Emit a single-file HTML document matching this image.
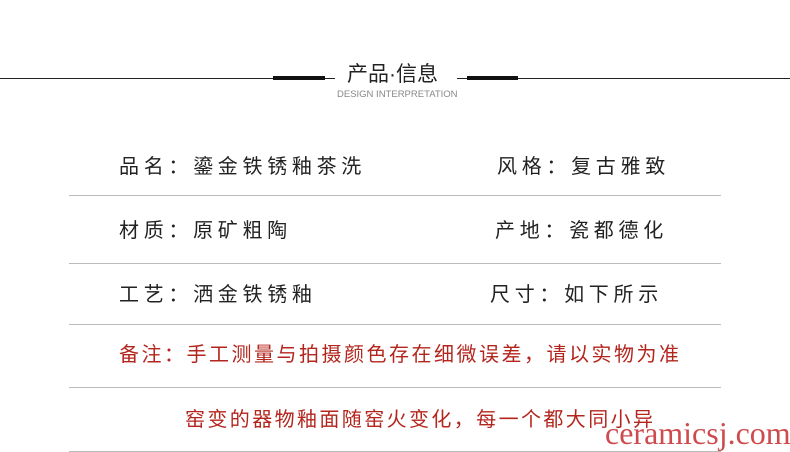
<!DOCTYPE html>
<html><head><meta charset="utf-8"><style>
body{margin:0;width:790px;height:452px;background:#fff;position:relative;overflow:hidden;font-family:"Liberation Sans","Noto Sans CJK SC",sans-serif}
.a{position:absolute;white-space:nowrap}
.t{font-size:20px;letter-spacing:4.7px;color:#222;line-height:20px}
.r{color:#b3261e;letter-spacing:2.5px}
.l{position:absolute;left:69px;width:652px;height:1px;background:#bbb}
</style></head><body>
<div class="a" style="left:0;top:78px;width:790px;height:1px;background:#222"></div>
<div class="a" style="left:273px;top:76px;width:52px;height:4px;background:#111"></div>
<div class="a" style="left:467px;top:76px;width:51px;height:4px;background:#111"></div>
<div class="a" style="left:335px;top:68px;width:122px;height:20px;background:#fff"></div>
<div class="a" style="left:347px;top:58px;font-size:21px;color:#222">产品·信息</div>
<div class="a" style="left:337px;top:89px;font-size:9.5px;color:#888">DESIGN INTERPRETATION</div>

<div class="a t" style="left:119px;top:157px">品名：鎏金铁锈釉茶洗</div>
<div class="a t" style="left:497px;top:157px">风格：复古雅致</div>
<div class="l" style="top:195px"></div>
<div class="a t" style="left:119px;top:221px">材质：原矿粗陶</div>
<div class="a t" style="left:495px;top:221px">产地：瓷都德化</div>
<div class="l" style="top:263px"></div>
<div class="a t" style="left:119px;top:285px">工艺：洒金铁锈釉</div>
<div class="a t" style="left:490px;top:285px">尺寸：如下所示</div>
<div class="l" style="top:324px"></div>
<div class="a t r" style="left:119px;top:345px">备注：手工测量与拍摄颜色存在细微误差，请以实物为准</div>
<div class="l" style="top:387px"></div>
<div class="a t r" style="left:185px;top:410px;letter-spacing:2.4px">窑变的器物釉面随窑火变化，每一个都大同小异</div>
<div class="l" style="top:451px"></div>
<div class="a" style="left:605px;top:415px;font-family:'Liberation Serif',serif;font-size:32px;color:#c9383a;opacity:.9">ceramicsj.com</div>
</body></html>
